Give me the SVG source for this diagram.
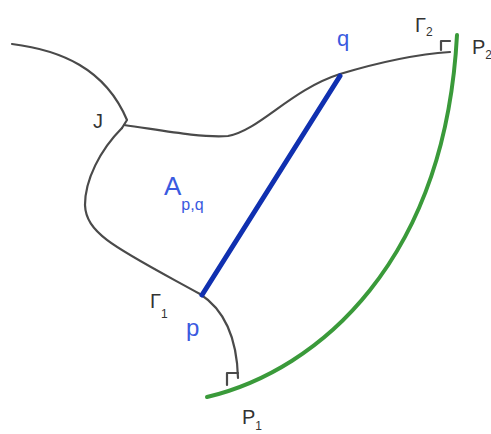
<svg xmlns="http://www.w3.org/2000/svg" width="491" height="434" viewBox="0 0 491 434">
<style>
.g{fill:none;stroke:#4a4a4a;stroke-width:2.2;stroke-linecap:round;stroke-linejoin:round}
.t{font-family:"Liberation Sans",Arial,sans-serif;fill:#333}
.b{font-family:"Liberation Sans",Arial,sans-serif;fill:#3a5ae0}
</style>
<rect width="491" height="434" fill="#ffffff"/>
<g id="boundary">
<path class="g" d="M12,44 C60,50 105,68 127,120 L122,128"/>
<path class="g" d="M124,125 C160,130 200,138 228,136 C260,130 290,90 340,74 C380,62 420,54 450,52"/>
<path class="g" d="M122,128 C100,150 85,180 85,205 C86,235 120,250 200,294 C225,310 237,340 238,378"/>
<path class="g" d="M227,385 L227,373 L238,373"/>
<path class="g" d="M441,50 L441,41 L450,41"/>
</g>
<g id="arc">
<path d="M207,397 C320,370 445,260 457,35" fill="none" stroke="#3a9a3a" stroke-width="4" stroke-linecap="round"/>
</g>
<g id="connectors">
<line x1="202" y1="295" x2="340" y2="76" stroke="#1030b0" stroke-width="5" stroke-linecap="round"/>
</g>
<g id="labels">
<text class="t" x="93" y="128" font-size="20">J</text>
<text class="b" x="337" y="46" font-size="22">q</text>
<text class="t" x="415" y="32" font-size="20">Γ<tspan font-size="12" dy="4">2</tspan></text>
<text class="t" x="472" y="54" font-size="20">P<tspan font-size="12" dy="5">2</tspan></text>
<text class="b" x="164" y="195" font-size="26">A<tspan font-size="16" dy="15">p,q</tspan></text>
<text class="t" x="150" y="308" font-size="20">Γ<tspan font-size="12" dy="10">1</tspan></text>
<text class="b" x="186" y="336" font-size="24">p</text>
<text class="t" x="242" y="424" font-size="20">P<tspan font-size="12" dy="6">1</tspan></text>
</g>
</svg>
